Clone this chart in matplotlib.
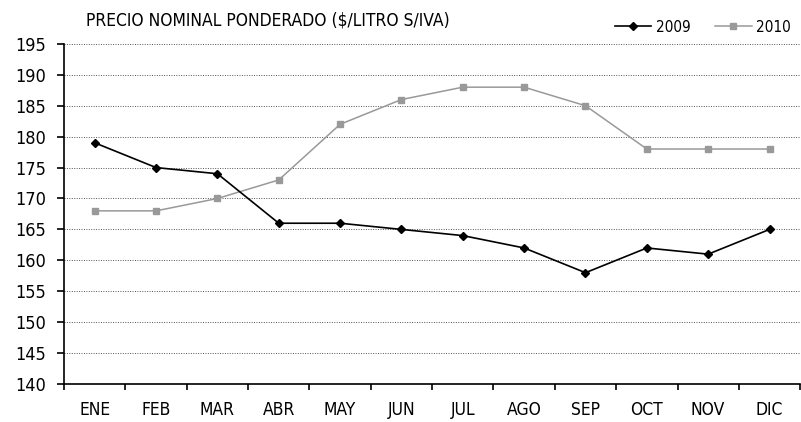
import numpy as np
import matplotlib
matplotlib.use("Agg")
import matplotlib.pyplot as plt
from matplotlib.ticker import FixedLocator

# fuente estrecha (DejaVu Sans Condensed)
plt.rcParams['font.family'] = ['DejaVu Sans']
plt.rcParams['font.stretch'] = 'condensed'

meses = ['ENE', 'FEB', 'MAR', 'ABR', 'MAY', 'JUN', 'JUL', 'AGO', 'SEP', 'OCT', 'NOV', 'DIC']
precio_2009 = [179, 175, 174, 166, 166, 165, 164, 162, 158, 162, 161, 165]
precio_2010 = [168, 168, 170, 173, 182, 186, 188, 188, 185, 178, 178, 178]

fig = plt.figure(figsize=(8.01, 4.22), dpi=100)
ax = fig.add_axes([0.08, 0.09, 0.919, 0.806])

x = np.arange(len(meses))
ax.plot(x, precio_2009, color='black', lw=1.2, marker='D', ms=4.5, label='2009', zorder=3)
ax.plot(x, precio_2010, color='#999999', lw=1.1, marker='s', ms=4.5, label='2010', zorder=2)

ax.set_xlim(-0.5, 11.5)
ax.set_ylim(140, 195)
ax.set_yticks(np.arange(140, 196, 5))
ax.set_xticks(x)
ax.set_xticklabels(meses)
ax.xaxis.set_minor_locator(FixedLocator(np.arange(-0.5, 12, 1)))
ax.tick_params(axis='x', which='major', length=0, pad=12, labelsize=12.5)
ax.tick_params(axis='x', which='minor', length=4, width=1.2, direction='out')
ax.tick_params(axis='y', length=5, width=1.2, labelsize=13, pad=8)

ax.grid(axis='y', linestyle=(0, (1, 1.5)), color='#555555', lw=0.7)
for s in ['top', 'right']:
    ax.spines[s].set_visible(False)
for s in ['left', 'bottom']:
    ax.spines[s].set_linewidth(1.2)

fig.text(0.107, 0.952, 'PRECIO NOMINAL PONDERADO ($/LITRO S/IVA)', fontsize=12.5, va='center')
ax.legend(loc='lower right', bbox_to_anchor=(1.0, 1.0), ncol=2, frameon=False,
          fontsize=11, handlelength=2.4, columnspacing=1.6, handletextpad=0.3,
          borderaxespad=0.2)

fig.savefig('out.png', dpi=100)
